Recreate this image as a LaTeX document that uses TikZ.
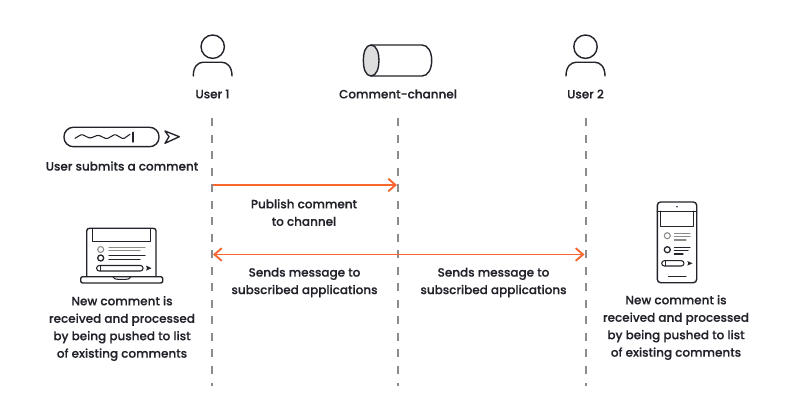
\documentclass[tikz,border=0pt]{standalone}
\usepackage{fontspec}
\setmainfont{Poppins Medium}[FakeBold=0.2]
\usetikzlibrary{arrows.meta}
\definecolor{ink}{HTML}{23232B}
\definecolor{org}{HTML}{F9662F}
\definecolor{dashc}{HTML}{8C8C8C}
\definecolor{fillg}{HTML}{DEDEDE}
\tikzset{
  x=0.75pt,y=-0.75pt,
  icon/.style={draw=ink,line width=1.05pt,line cap=round,line join=round},
  thin icon/.style={draw=ink,line width=0.8pt,line cap=round,line join=round},
  grey icon/.style={draw=dashc,line width=0.8pt,line cap=round},
  life/.style={draw=dashc,line width=1.1pt,dash pattern=on 6pt off 6.4pt},
  msg/.style={draw=org,line width=1.4pt,-{Straight Barb[length=5.5pt,width=9.5pt,line width=1.4pt]}},
  msgb/.style={draw=org,line width=1.4pt,{Straight Barb[length=5.5pt,width=9.5pt,line width=1.4pt]}-{Straight Barb[length=5.5pt,width=9.5pt,line width=1.4pt]}},
  lbl/.style={text=ink,font=\fontsize{9.0pt}{13.1pt}\selectfont,align=center,inner sep=0pt},
}
\begin{document}
\begin{tikzpicture}
\useasboundingbox[fill=white] (0,0) rectangle (800,417);
% user 1
\draw[icon] (212.7,46.7) circle (11.7*0.75pt);
\draw[icon] (193.3,76) .. controls (193.3,66.5) and (198,62.3) .. (203,62.3) -- (222,62.3) .. controls (227,62.3) and (232,66.5) .. (232,76);
\node[lbl] (u1) at (212.5,94) {User 1};
% user 2
\draw[icon] (585.5,46.7) circle (11.7*0.75pt);
\draw[icon] (566,76) .. controls (566,66.5) and (571,62.3) .. (576,62.3) -- (595,62.3) .. controls (600,62.3) and (605,66.5) .. (605,76);
\node[lbl] (u2) at (585.5,94) {User 2};
% channel
\draw[icon] (371,45) -- (422,45) .. controls (428,45) and (431.7,52) .. (431.7,60.5) .. controls (431.7,69) and (428,76) .. (422,76) -- (371,76);
\draw[icon,fill=fillg] (371,45) .. controls (365.5,45) and (363.3,53) .. (363.3,60.5) .. controls (363.3,68) and (365.5,76) .. (371,76) .. controls (376.5,76) and (379,68) .. (379,60.5) .. controls (379,53) and (376.5,45) .. (371,45) -- cycle;
\node[lbl] (ch) at (398,94) {Comment-channel};
% life lines
\coordinate (a1) at (212,118); \coordinate (a2) at (212,386);
\coordinate (b1) at (398,118); \coordinate (b2) at (398,386);
\coordinate (c1) at (586,118); \coordinate (c2) at (586,386);
\draw[life] (a1) -- (a2);
\draw[life] (b1) -- (b2);
\draw[life] (c1) -- (c2);
% messages
\coordinate (m1a) at (212.5,185); \coordinate (m1b) at (397,185);
\coordinate (m2a) at (213,254.5); \coordinate (m2b) at (584.5,254.5);
\draw[msg] (m1a) -- (m1b);
\draw[msgb] (m2a) -- (m2b);
% input box
\draw[icon,rounded corners=7pt] (64,127.3) rectangle (159,146.7);
\draw[thin icon,rounded corners=1pt] (75,138.3) -- (81.7,134.3) -- (90,138.3) -- (98.3,135) -- (106.7,139) -- (115,134.3) -- (123.3,139) -- (130,134.3);
\draw[thin icon,line width=1.05pt] (133,132.3) -- (133,142);
\draw[thin icon,line width=1pt] (165,131) -- (179.3,136.7) -- (165,143.3) -- (169,136.7) -- cycle;
\node[lbl] (sub) at (122,166) {User submits a comment};
% laptop
\draw[icon] (86.7,276.7) -- (86.7,231) .. controls (86.7,229) and (88,228.3) .. (90,228.3) -- (153,228.3) .. controls (155,228.3) and (156,229) .. (156,231) -- (156,276.7);
\draw[icon] (92.7,228.5) -- (92.7,241.7) -- (150.7,241.7) -- (150.7,228.5);
\draw[icon,rounded corners=1.5pt] (80.7,276.7) rectangle (162.7,283);
\draw[thin icon] (113,277) .. controls (114,279) and (116,279.3) .. (118,279.3) -- (126,279.3) .. controls (128,279.3) and (130,279) .. (130.7,277);
\draw[grey icon] (100.7,249.5) circle (3*0.75pt);
\draw[icon,line width=0.95pt] (100.7,258) circle (3*0.75pt);
\draw[grey icon] (109,247.3) -- (145,247.3) (109,250.7) -- (140,250.7);
\draw[thin icon] (109,255.7) -- (145,255.7) (109,259.3) -- (140,259.3);
\draw[thin icon,rounded corners=1.9pt] (96.7,265.5) rectangle (143,271);
\draw[thin icon] (100.5,266) -- (100.5,270.5);
\fill[ink] (146,265.5) -- (151.5,268.2) -- (146,270.7) -- (147,268.2) -- cycle;
\node[lbl] (lap) at (122,328.5) {New comment is\\received and processed\\by being pushed to list\\of existing comments};
% phone
\draw[icon,rounded corners=2.5pt] (657.3,202) rectangle (696.7,282.7);
\draw[icon] (657.3,211.3) -- (696.7,211.3);
\draw[icon] (660.7,211.3) -- (660.7,226.7) -- (693.3,226.7) -- (693.3,211.3);
\fill[ink] (677,206.7) circle (0.7pt);
\draw[grey icon] (667.3,235.7) circle (3*0.75pt);
\draw[icon,line width=0.95pt] (667.3,249.7) circle (3*0.75pt);
\draw[grey icon] (674.3,233.3) -- (690,233.3) (674.3,236.7) -- (690,236.7) (674.3,240) -- (686,240);
\draw[thin icon] (674.3,247.3) -- (690,247.3) (674.3,250.3) -- (688,250.3) (674.3,254) -- (683,254);
\draw[thin icon,rounded corners=2pt] (661.7,260.7) rectangle (684,266);
\draw[thin icon] (665.5,261.2) -- (665.5,265.5);
\fill[ink] (687.3,261) -- (692.5,263.3) -- (687.3,265.6) -- (688.3,263.3) -- cycle;
\draw[thin icon] (668.3,276.3) -- (686,276.3);
\node[lbl] (ph) at (676,327.5) {New comment is\\received and processed\\by being pushed to list\\of existing comments};
% labels
\node[lbl] (pub) at (304,212.5) {Publish comment\\to channel};
\node[lbl] (s1) at (304.5,282.5) {Sends message to\\subscribed applications};
\node[lbl] (s2) at (493.5,282.5) {Sends message to\\subscribed applications};
\end{tikzpicture}
\end{document}
